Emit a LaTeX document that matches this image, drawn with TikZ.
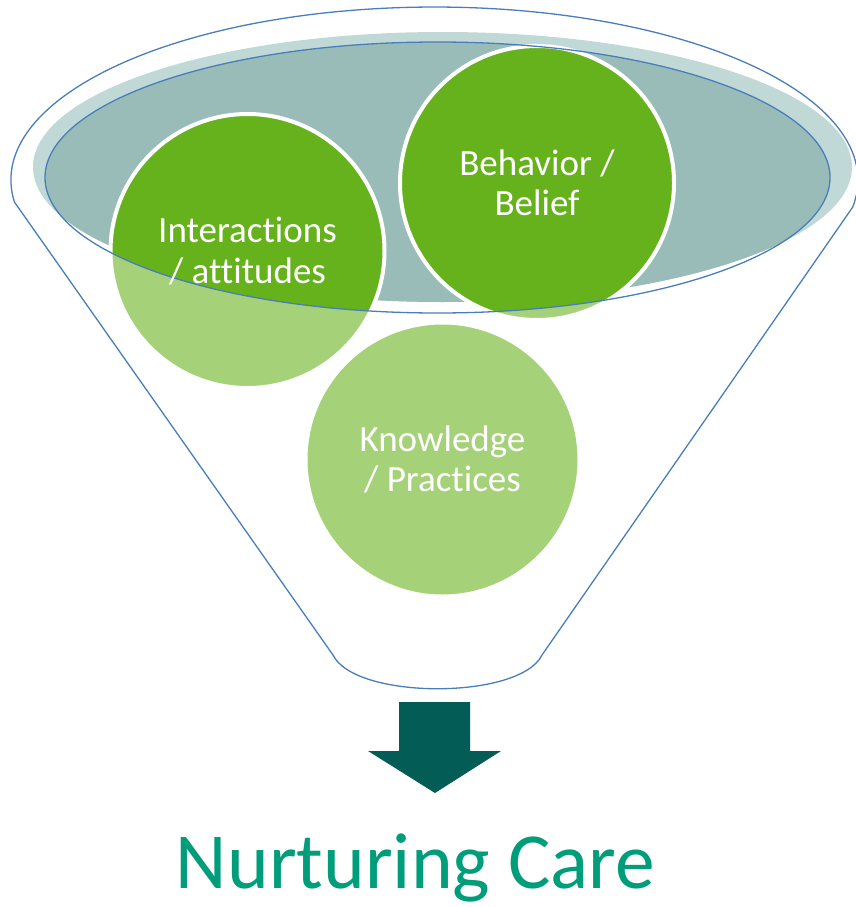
\documentclass[tikz,border=0pt]{standalone}
\usepackage{fontspec}
\setmainfont{Carlito}[Ligatures=NoCommon]
\definecolor{rimblue}{HTML}{4A7EBB}
\definecolor{tealpale}{HTML}{C0D8D6}
\definecolor{tealdark}{HTML}{99BCB9}
\definecolor{greendark}{HTML}{65B21C}
\definecolor{greenpale}{HTML}{A5D278}
\definecolor{arrowteal}{HTML}{035C55}
\definecolor{caretext}{HTML}{009D7B}

\begin{document}
\begin{tikzpicture}[x=1pt,y=-1pt,line cap=round,line join=round,
  rim/.style={draw=rimblue,line width=1.3pt},
  stage/.style={circle,minimum size=274pt,inner sep=0pt,fill=greenpale,draw=white,line width=4pt,
    path picture={\fill[greendark] (mouth) ellipse[x radius=392.5,y radius=135.5];}},
  stagetext/.style={text=white,align=center,inner sep=0pt,font=\fontsize{37}{40.5}\selectfont}]
\useasboundingbox (0,0) rectangle (856,907);
\coordinate (mouth) at (437.5,177.5);
% top of the funnel
\fill[tealpale] (442.5,167) ellipse[x radius=409.5,y radius=135];
\begin{scope}
\clip (mouth) ellipse[x radius=392.5,y radius=135.5];
\fill[tealdark] (442.5,167) ellipse[x radius=409.5,y radius=135];
\end{scope}
\draw[rim] (14.4,202) arc[start angle=172.7,end angle=369,x radius=423.5,y radius=173]
  -- (542,655) .. controls (520,700) and (355,700) .. (333,655) -- cycle;
% the three circles
\node[stage] (inter) at (247.5,251) {};
\node[stage] (behav) at (537,183) {};
\node[stage] (know) at (442.5,459.5) {};
\draw[rim] (mouth) ellipse[x radius=392.5,y radius=135.5];
\node[stagetext] (inter-t) at (inter) {Interactions\\/ attitudes};
\node[stagetext] (behav-t) at (behav) {Behavior /\\Belief};
\node[stagetext] (know-t) at (know) {Knowledge\\/ Practices};
% arrow and result
\fill[arrowteal] (399,702) -- (470,702) -- (470,751) -- (501,751) -- (435,793)
  -- (368,751) -- (399,751) -- cycle;
\node[anchor=base,inner sep=0pt,text=caretext,font=\fontsize{79.5}{90}\selectfont] (care)
  at (415.5,888) {Nurturing Care};
\end{tikzpicture}
\end{document}
